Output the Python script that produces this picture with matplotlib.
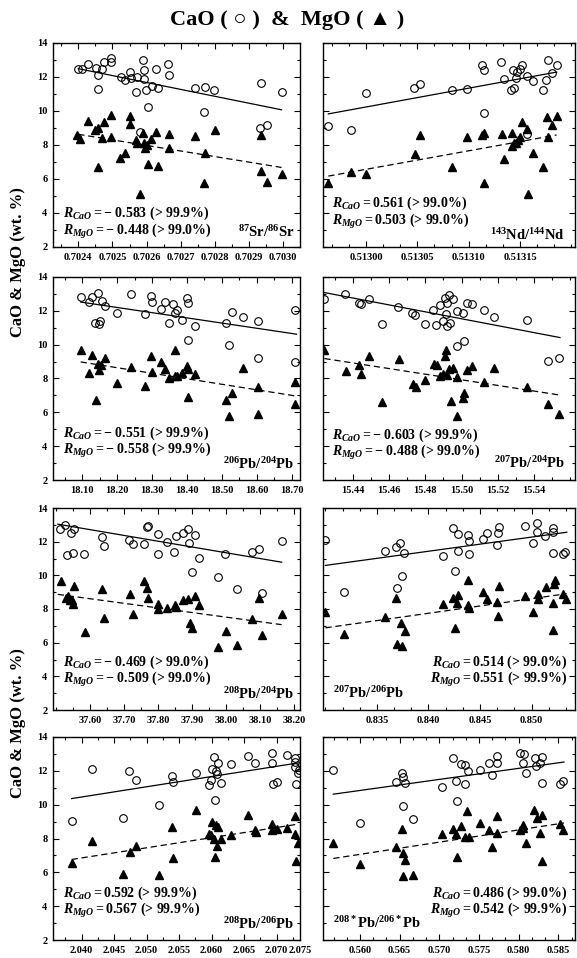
import matplotlib
matplotlib.use('Agg')
import matplotlib.pyplot as plt
from matplotlib.ticker import AutoMinorLocator, FixedLocator, MultipleLocator

plt.rcParams['font.family'] = ['Liberation Serif', 'DejaVu Sans']
plt.rcParams['font.weight'] = 'bold'
plt.rcParams['mathtext.fontset'] = 'custom'
plt.rcParams['mathtext.rm'] = 'Liberation Serif:bold'
plt.rcParams['mathtext.it'] = 'Liberation Serif:italic:bold'
plt.rcParams['mathtext.bf'] = 'Liberation Serif:bold'

# ---- 87Sr/86Sr ----
sr_cao_x = [0.70240, 0.70241, 0.702429, 0.702451, 0.702457, 0.702457, 0.702468, 0.702476, 0.702497,
            0.702497, 0.702524, 0.702537, 0.702551, 0.702553, 0.702569, 0.702571, 0.70258, 0.702588,
            0.702592, 0.702592, 0.702597, 0.702603, 0.702615, 0.702627, 0.702632, 0.702663, 0.702666,
            0.702741, 0.702771, 0.702768, 0.702798, 0.702934, 0.702932, 0.702951, 0.702995]
sr_cao = [12.49, 12.49, 12.78, 12.52, 12.13, 11.29, 12.49, 12.86, 12.88, 13.10, 11.99, 11.80, 12.29,
          11.97, 11.11, 12.01, 8.75, 12.98, 12.39, 11.90, 11.25, 10.26, 11.49, 12.47, 11.34, 12.78,
          12.13, 11.34, 11.44, 9.97, 11.21, 11.64, 8.98, 9.18, 11.11]
sr_mgo_x = [0.702395, 0.702405, 0.702427, 0.702449, 0.702457, 0.702457, 0.702468, 0.702476, 0.702496,
            0.702496, 0.702522, 0.702537, 0.702551, 0.702551, 0.702569, 0.702571, 0.702582, 0.702588,
            0.702592, 0.702595, 0.70260, 0.702603, 0.702613, 0.702627, 0.702632, 0.702665, 0.702666,
            0.702741, 0.702771, 0.702768, 0.70280, 0.702934, 0.702934, 0.702952, 0.702995]
sr_mgo = [8.59, 8.35, 9.42, 8.88, 8.98, 6.72, 8.39, 9.38, 8.49, 9.77, 7.21, 7.55, 9.71, 9.24, 8.29,
          8.14, 5.11, 8.69, 8.14, 7.80, 8.00, 6.88, 8.33, 8.78, 6.76, 8.65, 7.80, 8.53, 7.51, 5.74,
          8.88, 8.59, 6.48, 5.84, 6.29]
sr_fit_x = [0.70240, 0.702995]
sr_fit_cao = [12.49, 10.07]
sr_fit_mgo = [8.63, 6.68]

# ---- 143Nd/144Nd ----
nd_cao_x = [0.5129633, 0.5129854, 0.5130000, 0.5130468, 0.5130526, 0.5130841, 0.5130987, 0.5131133,
            0.5131153, 0.5131153, 0.5131315, 0.5131347, 0.5131412, 0.5131429, 0.5131442, 0.5131461,
            0.5131468, 0.5131500, 0.5131516, 0.5131565, 0.5131571, 0.5131630, 0.5131720, 0.5131753,
            0.5131770, 0.5131808, 0.5131857]
nd_cao = [9.12, 8.88, 11.05, 11.34, 11.58, 11.25, 11.29, 12.72, 12.43, 9.91, 12.88, 11.88, 11.21,
          12.39, 11.38, 11.94, 12.31, 12.47, 12.72, 12.07, 8.65, 11.74, 11.25, 11.84, 13.02, 12.23, 12.72]
nd_mgo_x = [0.5129633, 0.5129854, 0.5130000, 0.5130477, 0.5130526, 0.5130841, 0.5130987, 0.5131133,
            0.5131153, 0.5131153, 0.5131321, 0.5131347, 0.5131419, 0.5131419, 0.5131442, 0.5131461,
            0.5131477, 0.5131500, 0.5131516, 0.5131565, 0.5131574, 0.5131630, 0.5131727, 0.5131760,
            0.5131770, 0.5131808, 0.5131857]
nd_mgo = [5.78, 6.43, 6.27, 7.47, 8.59, 6.68, 8.49, 8.59, 8.73, 5.74, 8.63, 7.16, 8.73, 7.94, 8.14,
          8.10, 8.29, 8.49, 9.38, 8.92, 5.11, 7.51, 6.68, 9.63, 8.45, 9.18, 9.71]
nd_fit_x = [0.5129633, 0.5131857]
nd_fit_cao = [9.83, 12.29]
nd_fit_mgo = [6.17, 8.59]

# ---- 206Pb/204Pb ----
pb64_cao_x = [18.096, 18.120, 18.128, 18.137, 18.147, 18.149, 18.151, 18.156, 18.165, 18.200, 18.241,
              18.279, 18.298, 18.299, 18.325, 18.337, 18.349, 18.361, 18.365, 18.372, 18.387, 18.401,
              18.404, 18.404, 18.423, 18.512, 18.520, 18.530, 18.560, 18.603, 18.603, 18.708, 18.708]
pb64_cao = [12.82, 12.52, 12.82, 11.30, 13.08, 11.25, 11.40, 12.56, 12.29, 11.87, 12.98, 11.80, 12.88,
            12.52, 12.13, 12.52, 11.29, 12.43, 11.89, 12.03, 11.44, 12.78, 12.47, 10.26, 11.11, 11.30,
            9.97, 11.93, 11.64, 9.22, 11.40, 12.07, 8.98]
pb64_mgo_x = [18.096, 18.120, 18.128, 18.139, 18.147, 18.149, 18.153, 18.165, 18.200, 18.241, 18.279,
              18.298, 18.299, 18.325, 18.337, 18.349, 18.365, 18.365, 18.372, 18.387, 18.401, 18.404,
              18.404, 18.423, 18.512, 18.520, 18.530, 18.560, 18.603, 18.603, 18.708, 18.708]
pb64_mgo = [9.71, 8.33, 9.38, 6.72, 8.88, 8.53, 8.79, 9.22, 7.76, 8.69, 7.55, 9.34, 8.39, 8.98, 8.55,
            8.00, 9.71, 8.14, 8.14, 8.33, 8.73, 8.59, 6.88, 8.26, 6.72, 5.78, 7.17, 8.65, 7.47, 5.89,
            7.80, 6.48]
pb64_fit_x = [18.096, 18.713]
pb64_fit_cao = [12.52, 10.62]
pb64_fit_mgo = [8.98, 6.96]

# ---- 207Pb/204Pb ----
pb74_cao_x = [15.4242, 15.4356, 15.4435, 15.4444, 15.4490, 15.4558, 15.4650, 15.4724, 15.4742,
              15.4798, 15.4844, 15.4858, 15.4880, 15.4900, 15.4908, 15.4914, 15.4920, 15.4918,
              15.4932, 15.4936, 15.4954, 15.4972, 15.4972, 15.5010, 15.5014, 15.5028, 15.5056,
              15.5126, 15.5180, 15.5360, 15.5476, 15.5540]
pb74_cao = [12.72, 13.02, 12.47, 12.43, 12.72, 11.21, 12.23, 11.87, 11.74, 11.25, 12.07, 11.19, 12.37,
            11.38, 12.78, 11.84, 12.47, 11.09, 12.92, 11.28, 12.72, 9.91, 11.99, 11.87, 10.20, 12.47,
            12.43, 12.07, 11.64, 11.44, 9.02, 9.24]
pb74_mgo_x = [15.4242, 15.4360, 15.4435, 15.4444, 15.4490, 15.4558, 15.4654, 15.4730, 15.4746,
              15.4798, 15.4848, 15.4862, 15.4880, 15.4900, 15.4908, 15.4914, 15.4918, 15.4932,
              15.4940, 15.4954, 15.4972, 15.4976, 15.5010, 15.5014, 15.5030, 15.5056, 15.5126,
              15.5180, 15.5360, 15.5476, 15.5540]
pb74_mgo = [9.67, 8.45, 8.79, 8.26, 9.34, 6.62, 9.14, 7.70, 7.47, 7.94, 8.88, 8.82, 8.14, 8.29, 9.34,
            9.67, 8.20, 8.59, 6.68, 8.63, 8.06, 5.78, 6.82, 7.15, 8.53, 8.73, 7.80, 8.65, 7.51, 6.52, 5.89]
pb74_fit_x = [15.4242, 15.5544]
pb74_fit_cao = [13.08, 10.42]
pb74_fit_mgo = [9.18, 7.02]

# ---- 208Pb/204Pb ----
pb84_cao_x = [37.512, 37.526, 37.531, 37.543, 37.551, 37.553, 37.583, 37.634, 37.641, 37.716, 37.725,
              37.759, 37.767, 37.772, 37.801, 37.801, 37.828, 37.848, 37.853, 37.873, 37.887, 37.892,
              37.899, 37.909, 37.921, 37.977, 37.997, 38.033, 38.078, 38.098, 38.105, 38.164]
pb84_cao = [12.76, 13.01, 11.18, 12.50, 11.34, 12.76, 11.24, 12.26, 11.77, 12.07, 11.87, 11.87, 12.86,
            12.95, 12.46, 11.24, 11.97, 11.38, 12.36, 12.50, 12.76, 11.91, 10.19, 12.40, 11.04, 9.90,
            11.28, 9.16, 11.38, 11.57, 8.95, 12.03]
pb84_mgo_x = [37.514, 37.529, 37.536, 37.541, 37.546, 37.549, 37.553, 37.585, 37.634, 37.641, 37.718,
              37.725, 37.759, 37.767, 37.772, 37.801, 37.801, 37.828, 37.850, 37.853, 37.873, 37.889,
              37.894, 37.899, 37.909, 37.921, 37.977, 37.999, 38.033, 38.078, 38.098, 38.105, 38.164]
pb84_mgo = [9.66, 8.67, 8.75, 8.56, 8.51, 8.32, 9.34, 6.64, 9.16, 7.49, 8.87, 7.69, 9.66, 9.26, 8.63,
            8.32, 7.98, 8.06, 8.22, 8.12, 8.51, 8.61, 7.17, 6.85, 8.75, 8.22, 5.75, 6.70, 5.85, 7.43,
            8.63, 6.46, 7.69]
pb84_fit_x = [37.505, 38.164]
pb84_fit_cao = [13.04, 10.78]
pb84_fit_mgo = [8.87, 7.07]

# ---- 207Pb/206Pb ----
r76_cao_x = [0.83000, 0.83183, 0.83578, 0.83685, 0.83690, 0.83723, 0.83740, 0.83765, 0.84138, 0.84235,
             0.84257, 0.84283, 0.84290, 0.84380, 0.84393, 0.84396, 0.84530, 0.84565, 0.84668, 0.84678,
             0.84688, 0.84937, 0.85011, 0.85057, 0.85057, 0.85130, 0.85205, 0.85212, 0.85212, 0.85303,
             0.85328]
r76_cao = [12.11, 9.01, 11.43, 11.67, 9.26, 11.93, 9.95, 11.34, 11.12, 12.82, 10.25, 11.47, 12.46,
           12.42, 12.03, 11.28, 12.13, 12.52, 11.83, 12.52, 12.86, 12.95, 11.93, 13.11, 12.56, 12.32,
           11.32, 12.82, 12.56, 11.28, 11.41]
r76_mgo_x = [0.83000, 0.83183, 0.83578, 0.83685, 0.83690, 0.83733, 0.83740, 0.83770, 0.84144, 0.84241,
             0.84257, 0.84280, 0.84290, 0.84387, 0.84387, 0.84393, 0.84530, 0.84570, 0.84668, 0.84678,
             0.84688, 0.84937, 0.85014, 0.85060, 0.85066, 0.85141, 0.85212, 0.85212, 0.85222, 0.85228,
             0.85303, 0.85334]
r76_mgo = [7.82, 6.50, 7.53, 8.67, 5.91, 7.19, 5.79, 6.72, 8.28, 8.67, 6.88, 8.36, 8.81, 9.70, 8.22,
           8.08, 9.01, 8.61, 8.41, 7.57, 9.36, 8.75, 7.82, 8.61, 8.91, 9.30, 6.74, 8.36, 9.46, 9.74,
           8.91, 8.61]
r76_fit_x = [0.8300, 0.85342]
r76_fit_cao = [10.59, 12.56]
r76_fit_mgo = [6.88, 8.91]

# ---- 208Pb/206Pb ----
r86_cao_x = [2.03846, 2.04165, 2.04630, 2.04733, 2.04836, 2.05195, 2.05385, 2.05410, 2.05760, 2.05960,
             2.05985, 2.06010, 2.06040, 2.06050, 2.06066, 2.06087, 2.06103, 2.06138, 2.06292, 2.06554,
             2.06667, 2.06923, 2.06933, 2.06938, 2.07010, 2.07154, 2.07280, 2.07280, 2.07297, 2.07323,
             2.07285, 2.07349]
r86_cao = [9.04, 12.13, 9.24, 11.97, 11.44, 9.97, 11.68, 11.34, 11.89, 11.15, 11.44, 12.13, 12.82,
           10.26, 11.99, 11.80, 12.47, 11.28, 12.39, 12.86, 12.49, 13.08, 12.49, 11.21, 11.34, 12.92,
           12.78, 12.23, 11.25, 11.87, 12.52, 12.07]
r86_mgo_x = [2.03846, 2.04165, 2.04630, 2.04744, 2.04836, 2.05195, 2.05385, 2.05410, 2.05760, 2.05960,
             2.05985, 2.06010, 2.06040, 2.06050, 2.06066, 2.06087, 2.06103, 2.06138, 2.06292, 2.06554,
             2.06667, 2.06682, 2.06923, 2.06933, 2.07010, 2.07154, 2.07280, 2.07280, 2.07297, 2.07323]
r86_mgo = [6.56, 7.86, 5.93, 7.21, 7.55, 5.84, 8.69, 6.82, 9.71, 8.29, 8.20, 8.98, 8.00, 6.92, 8.79,
           7.55, 8.69, 8.00, 8.20, 9.38, 8.53, 8.39, 8.88, 8.49, 8.59, 8.65, 9.32, 8.29, 6.68, 7.74]
r86_fit_x = [2.03846, 2.07333]
r86_fit_cao = [10.36, 12.47]
r86_fit_mgo = [6.76, 8.85]

# ---- 208*Pb/206*Pb ----
r86s_cao_x = [0.55664, 0.56000, 0.56460, 0.56534, 0.56546, 0.56546, 0.56567, 0.56664, 0.57030, 0.57176,
              0.57206, 0.57227, 0.57269, 0.57324, 0.57324, 0.57366, 0.57513, 0.57630, 0.57660, 0.57723,
              0.57723, 0.58017, 0.58059, 0.58071, 0.58092, 0.58206, 0.58218, 0.58269, 0.58290, 0.58290,
              0.58521, 0.58563]
r86s_cao = [12.03, 8.94, 11.34, 11.87, 11.64, 9.91, 11.28, 9.18, 11.05, 12.76, 11.40, 10.22, 12.43,
            12.37, 11.25, 11.99, 12.07, 12.49, 11.78, 12.86, 12.49, 13.08, 12.49, 12.98, 11.89, 12.78,
            12.29, 12.49, 12.82, 11.28, 11.21, 11.38]
r86s_mgo_x = [0.55664, 0.56000, 0.56460, 0.56534, 0.56546, 0.56567, 0.56546, 0.56664, 0.57038, 0.57176,
              0.57206, 0.57227, 0.57269, 0.57324, 0.57345, 0.57374, 0.57513, 0.57630, 0.57660, 0.57723,
              0.57730, 0.58017, 0.58050, 0.58059, 0.58092, 0.58197, 0.58227, 0.58269, 0.58290, 0.58290,
              0.58521, 0.58563]
r86s_mgo = [7.74, 6.48, 7.51, 8.59, 7.15, 6.72, 5.78, 5.87, 8.26, 8.59, 8.29, 6.88, 8.73, 8.06, 9.63,
            8.06, 8.92, 8.53, 7.51, 8.35, 9.32, 8.49, 8.79, 8.65, 7.74, 9.71, 9.22, 8.33, 9.38, 6.68,
            8.88, 8.53]
r86s_fit_x = [0.55664, 0.58571]
r86s_fit_cao = [10.62, 12.52]
r86s_fit_mgo = [6.82, 8.92]

# tick values per panel
sr_ticks = [0.7024, 0.7025, 0.7026, 0.7027, 0.7028, 0.7029, 0.7030]
nd_ticks = [0.51300, 0.51305, 0.51310, 0.51315]
pb64_ticks = [18.10, 18.20, 18.30, 18.40, 18.50, 18.60, 18.70]
pb74_ticks = [15.44, 15.46, 15.48, 15.50, 15.52, 15.54]
pb84_ticks = [37.60, 37.70, 37.80, 37.90, 38.00, 38.10, 38.20]
r76_ticks = [0.835, 0.840, 0.845, 0.850]
r86_ticks = [2.040, 2.045, 2.050, 2.055, 2.060, 2.065, 2.070]
r86s_ticks = [0.560, 0.565, 0.570, 0.575, 0.580, 0.585]

# correlation coefficients and confidence levels
r_cao = ['- 0.583', '0.561', '- 0.551', '- 0.603', '- 0.469', '0.514', '0.592', '0.486']
r_mgo = ['- 0.448', '0.503', '- 0.558', '- 0.488', '- 0.509', '0.551', '0.567', '0.542']
conf_cao = ['99.9', '99.0', '99.9', '99.9', '99.0', '99.0', '99.9', '99.0']
conf_mgo = ['99.0', '99.0', '99.9', '99.0', '99.0', '99.9', '99.9', '99.9']
ratio_labels = [r'$^{87}$Sr/$^{86}$Sr', r'$^{143}$Nd/$^{144}$Nd',
                r'$^{206}$Pb/$^{204}$Pb', r'$^{207}$Pb/$^{204}$Pb',
                r'$^{208}$Pb/$^{204}$Pb', r'$^{207}$Pb/$^{206}$Pb',
                r'$^{208}$Pb/$^{206}$Pb', r'$^{208*}$Pb/$^{206*}$Pb']

# panel geometry, pixels on a 577x958 canvas
W, H = 577, 958
col_px = [(53, 247), (323, 252)]
row_px = [(43, 247), (277, 480), (508, 710), (737, 940)]

panels = [
    dict(cx=sr_cao_x, cy=sr_cao, mx=sr_mgo_x, my=sr_mgo, fx=sr_fit_x, fc=sr_fit_cao, fm=sr_fit_mgo,
         xlim=(0.702326, 0.703049), ticks=sr_ticks, fmt='%.4f', minor=2,
         rx=0.04, ry=(0.167, 0.074), rha='left', lx=0.976, ly=0.074, lha='right'),
    dict(cx=nd_cao_x, cy=nd_cao, mx=nd_mgo_x, my=nd_mgo, fx=nd_fit_x, fc=nd_fit_cao, fm=nd_fit_mgo,
         xlim=(0.5129581, 0.5132036), ticks=nd_ticks, fmt='%.5f', minor=3,
         rx=0.036, ry=(0.216, 0.123), rha='left', lx=0.962, ly=0.06, lha='right'),
    dict(cx=pb64_cao_x, cy=pb64_cao, mx=pb64_mgo_x, my=pb64_mgo, fx=pb64_fit_x, fc=pb64_fit_cao,
         fm=pb64_fit_mgo, xlim=(18.017, 18.723), ticks=pb64_ticks, fmt='%.2f', minor=2,
         rx=0.04, ry=(0.232, 0.146), rha='left', lx=0.976, ly=0.078, lha='right'),
    dict(cx=pb74_cao_x, cy=pb74_cao, mx=pb74_mgo_x, my=pb74_mgo, fx=pb74_fit_x, fc=pb74_fit_cao,
         fm=pb74_fit_mgo, xlim=(15.4234, 15.5627), ticks=pb74_ticks, fmt='%.2f', minor=2,
         rx=0.036, ry=(0.222, 0.136), rha='left', lx=0.962, ly=0.084, lha='right'),
    dict(cx=pb84_cao_x, cy=pb84_cao, mx=pb84_mgo_x, my=pb84_mgo, fx=pb84_fit_x, fc=pb84_fit_cao,
         fm=pb84_fit_mgo, xlim=(37.491, 38.218), ticks=pb84_ticks, fmt='%.2f', minor=2,
         rx=0.04, ry=(0.236, 0.150), rha='left', lx=0.976, ly=0.08, lha='right'),
    dict(cx=r76_cao_x, cy=r76_cao, mx=r76_mgo_x, my=r76_mgo, fx=r76_fit_x, fc=r76_fit_cao,
         fm=r76_fit_mgo, xlim=(0.82976, 0.85422), ticks=r76_ticks, fmt='%.3f', minor=3,
         rx=0.968, ry=(0.235, 0.149), rha='right', lx=0.04, ly=0.084, lha='left'),
    dict(cx=r86_cao_x, cy=r86_cao, mx=r86_mgo_x, my=r86_mgo, fx=r86_fit_x, fc=r86_fit_cao,
         fm=r86_fit_mgo, xlim=(2.03559, 2.07359), ticks=r86_ticks, fmt='%.3f', minor=2,
         rx=0.04, ry=(0.232, 0.146), rha='left', lx=0.976, ly=0.08, lha='right'),
    dict(cx=r86s_cao_x, cy=r86s_cao, mx=r86s_mgo_x, my=r86s_mgo, fx=r86s_fit_x, fc=r86s_fit_cao,
         fm=r86s_fit_mgo, xlim=(0.55534, 0.58710), ticks=r86s_ticks, fmt='%.3f', minor=3,
         rx=0.968, ry=(0.232, 0.146), rha='right', lx=0.04, ly=0.084, lha='left'),
]

fig = plt.figure(figsize=(W / 100, H / 100), dpi=100)

for i, p in enumerate(panels):
    r, c = divmod(i, 2)
    x0, w = col_px[c]
    top, bot = row_px[r]
    ax = fig.add_axes([x0 / W, 1 - bot / H, w / W, (bot - top) / H])

    ax.plot(p['fx'], p['fc'], '-', color='black', lw=0.9, zorder=2)
    ax.plot(p['fx'], p['fm'], '--', color='black', lw=0.9, dashes=(5, 3), zorder=2)
    ax.plot(p['cx'], p['cy'], 'o', ms=5.5, mfc='none', mec='black', mew=0.8, zorder=3)
    ax.plot(p['mx'], p['my'], '^', ms=5.5, color='black', zorder=3)

    ax.set_xlim(*p['xlim'])
    ax.set_ylim(2, 14)
    ax.xaxis.set_major_locator(FixedLocator(p['ticks']))
    ax.set_xticklabels([p['fmt'] % t for t in p['ticks']])
    ax.xaxis.set_minor_locator(AutoMinorLocator(p['minor']))
    ax.yaxis.set_major_locator(MultipleLocator(2))
    ax.yaxis.set_minor_locator(MultipleLocator(1))
    if c == 1:
        ax.set_yticklabels([])
    ax.tick_params(which='both', direction='in', top=True, right=True, width=0.8,
                   labelsize=7.5, pad=4)
    ax.tick_params(which='major', length=4)
    ax.tick_params(which='minor', length=2)
    for s in ax.spines.values():
        s.set_linewidth(1.0)

    t1 = r'$\mathit{R_{CaO} = ' + r_cao[i].replace(' ', r'\ ') + r'}$ (> ' + conf_cao[i] + '%)'
    t2 = r'$\mathit{R_{MgO} = ' + r_mgo[i].replace(' ', r'\ ') + r'}$ (> ' + conf_mgo[i] + '%)'
    ax.text(p['rx'], p['ry'][0], t1, transform=ax.transAxes, ha=p['rha'], va='center', fontsize=10)
    ax.text(p['rx'], p['ry'][1], t2, transform=ax.transAxes, ha=p['rha'], va='center', fontsize=10)
    ax.text(p['lx'], p['ly'], ratio_labels[i], transform=ax.transAxes, ha=p['lha'], va='center',
            fontsize=10.5)

    if i == 6:
        # last label of the 208Pb/206Pb axis sits at the frame corner
        ax.text(1.0, -0.028, '2.075', transform=ax.transAxes, ha='center', va='top', fontsize=7.5)

fig.text(0.497, 0.979, 'CaO ( \u25CB )  &  MgO ( \u25B2 )', ha='center', va='center', fontsize=16)
fig.text(0.031, 0.7265, 'CaO & MgO (wt. %)', rotation=90, ha='center', va='center', fontsize=12)
fig.text(0.031, 0.2453, 'CaO & MgO (wt. %)', rotation=90, ha='center', va='center', fontsize=12)

fig.savefig('out.png', dpi=100)
